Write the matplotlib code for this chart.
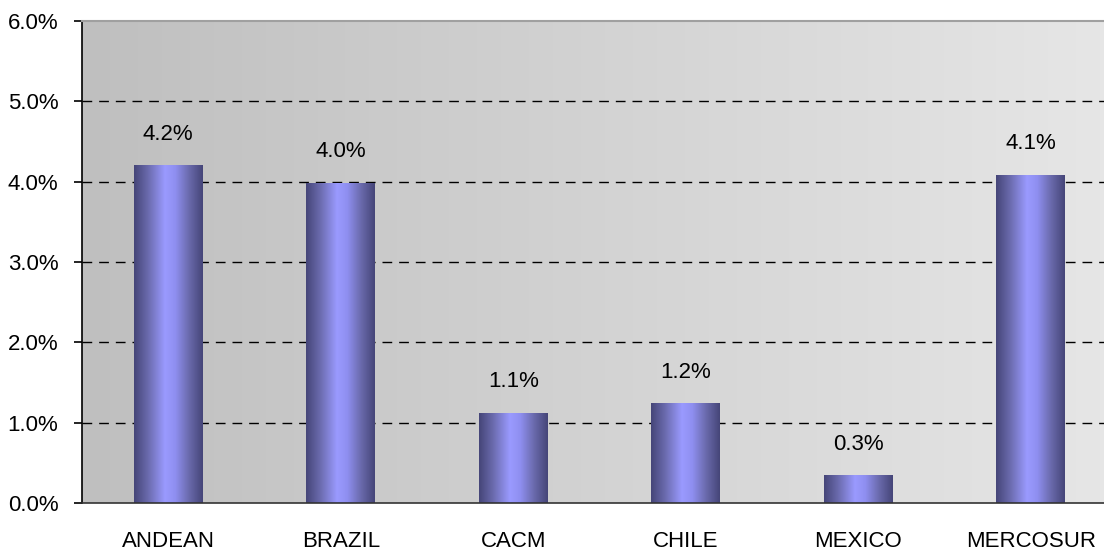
import matplotlib.pyplot as plt
import numpy as np
from matplotlib.colors import LinearSegmentedColormap
from matplotlib.ticker import FuncFormatter

plt.rcParams['font.family'] = ['Liberation Sans', 'DejaVu Sans']

# data
regions = ["ANDEAN", "BRAZIL", "CACM", "CHILE", "MEXICO", "MERCOSUR"]
growth = [4.2, 3.98, 1.12, 1.24, 0.34, 4.08]
labels = ["4.2%", "4.0%", "1.1%", "1.2%", "0.3%", "4.1%"]
yticks = [0, 1, 2, 3, 4, 5, 6]

fig = plt.figure(figsize=(11.04, 5.52), dpi=100)
ax = fig.add_axes([82 / 1104, 49 / 552, 1022 / 1104, 482 / 552])

x = np.arange(len(regions))
xmax = 5.5 - 13 / 172.6
ax.set_xlim(-0.5, xmax)
ax.set_ylim(0, 6)

# background gradient, darker grey on the left
bg = LinearSegmentedColormap.from_list("bg", ["#bfbfbf", "#e6e6e6"])
grad = np.linspace(0, 1, 256).reshape(1, -1)
ax.imshow(grad, cmap=bg, extent=[-0.5, xmax, 0, 6], aspect="auto", zorder=0)

# grid
for y in yticks[1:-1]:
    ax.axhline(y, color="black", lw=1, ls=(0, (7, 5)), zorder=1)

# cylinder-like bars
cyl = LinearSegmentedColormap.from_list(
    "cyl", [(0.0, "#454578"), (0.2, "#6a6aac"), (0.45, "#9a9aff"),
            (0.6, "#8f8ff0"), (0.8, "#6a6aac"), (1.0, "#454578")])
w = 0.4
bars = ax.bar(x, growth, width=w, color="none", zorder=2)
for xi, v, lab in zip(x, growth, labels):
    ax.imshow(grad, cmap=cyl, extent=[xi - w / 2, xi + w / 2, 0, v],
              aspect="auto", zorder=2)
    ax.annotate(lab, (xi, v), xytext=(0, 15), textcoords="offset points",
                ha="center", va="bottom", fontsize=16)

ax.set_xticks(x)
ax.set_xticklabels(regions, fontsize=16)
ax.set_yticks(yticks)
ax.yaxis.set_major_formatter(FuncFormatter(lambda v, p: "%.1f%%" % v))
ax.tick_params(axis="x", length=0, pad=20)
ax.tick_params(axis="y", length=6, width=1.2, pad=11, labelsize=16)

ax.spines["right"].set_visible(False)
ax.spines["top"].set_color("#a0a0a0")
ax.spines["top"].set_linewidth(1.5)
ax.spines["left"].set_linewidth(1.2)
ax.spines["bottom"].set_linewidth(1.2)
ax.spines["bottom"].set_color("#333333")

fig.savefig("out.png", dpi=100)
